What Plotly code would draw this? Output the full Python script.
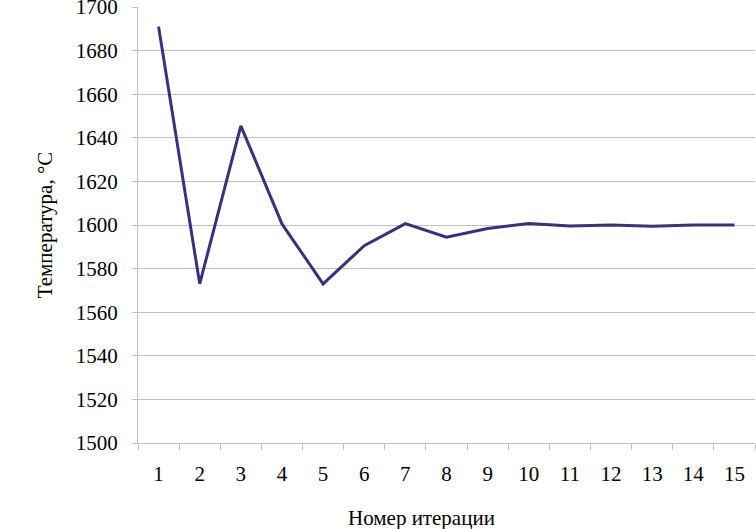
import plotly.graph_objects as go

iterations = [str(i) for i in range(1, 16)]
temperature = [1691, 1573, 1645.5, 1600.5, 1573, 1590.5, 1600.6, 1594.4,
               1598.4, 1600.7, 1599.5, 1600, 1599.4, 1600, 1600]

grid_color = "#c0c0c0"
line_color = "#35327e"

fig = go.Figure()
fig.add_trace(go.Scatter(
    x=iterations,
    y=temperature,
    mode="lines",
    line=dict(color=line_color, width=3),
    showlegend=False,
))

fig.update_layout(
    width=756,
    height=529,
    margin=dict(l=138, r=1, t=7, b=86),
    plot_bgcolor="white",
    paper_bgcolor="white",
    font=dict(family="Liberation Serif, Times New Roman, serif", size=21, color="black"),
    # x title sits a little left of the plot centre in the original
    annotations=[dict(
        text="Номер итерации",
        xref="paper", yref="paper",
        x=0.46, y=-0.172,
        xanchor="center", yanchor="middle",
        showarrow=False,
        font=dict(size=21),
    )],
)

fig.update_xaxes(
    type="category",
    range=[-0.5, 14.5],
    tickson="boundaries",
    ticks="outside",
    ticklen=6,
    tickcolor=grid_color,
    ticklabelstandoff=12,
    showline=True,
    linecolor=grid_color,
    linewidth=1,
    showgrid=False,
    automargin=False,
    tickfont=dict(size=21),
)

fig.update_yaxes(
    range=[1500, 1700],
    dtick=20,
    ticks="outside",
    ticklen=5,
    tickcolor=grid_color,
    ticklabelstandoff=10,
    ticklabeloverflow="allow",
    showline=True,
    linecolor=grid_color,
    linewidth=1,
    showgrid=True,
    gridcolor=grid_color,
    gridwidth=1,
    zeroline=False,
    automargin=False,
    title=dict(text="Температура, °С", standoff=17, font=dict(size=21)),
    tickfont=dict(size=21),
)

# page body has a default 8px margin, drop it so the figure fills the window
fig.write_html("out.html", config={"displayModeBar": False},
               post_script="document.body.style.margin='0';")
